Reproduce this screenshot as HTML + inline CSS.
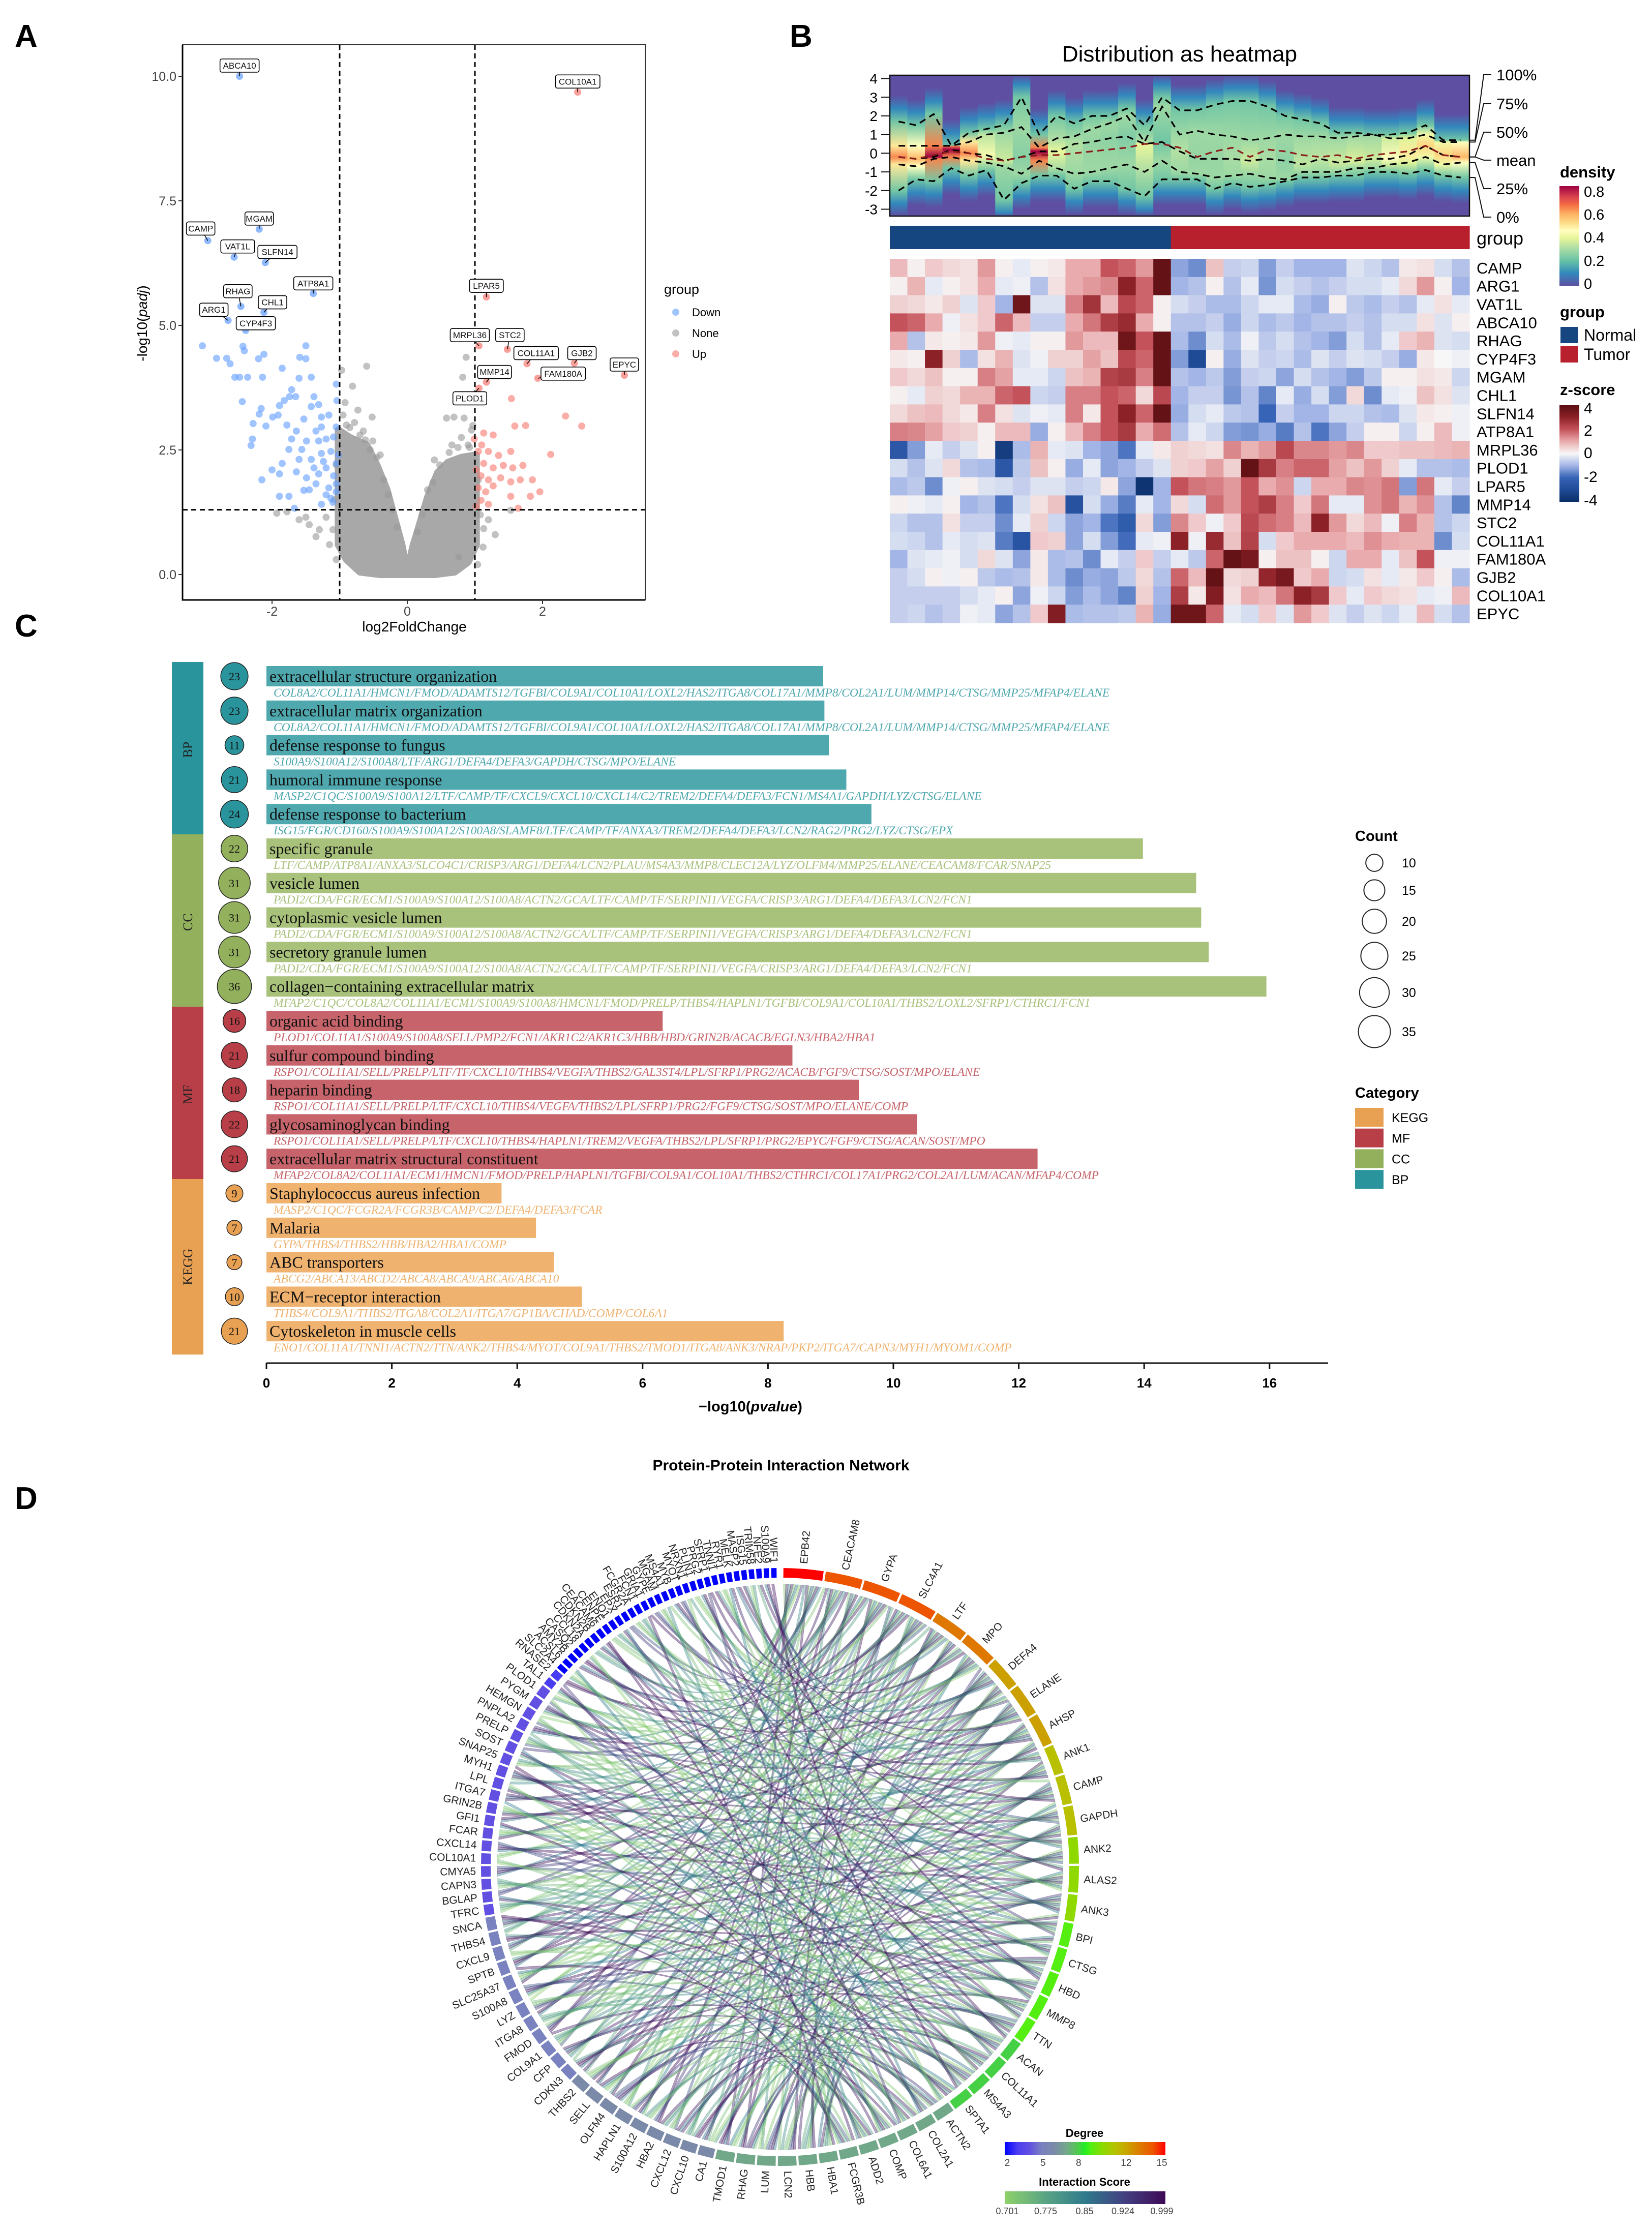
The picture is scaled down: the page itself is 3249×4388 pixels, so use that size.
<!DOCTYPE html>
<html><head><meta charset="utf-8"><style>
html,body{margin:0;padding:0;background:#fff;}
svg{display:block;font-family:"Liberation Sans",sans-serif;}
.serif{font-family:"Liberation Serif",serif;}
</style></head><body>
<svg id="fig" xmlns="http://www.w3.org/2000/svg" width="3249" height="4388" viewBox="0 0 3249 4388">
<rect x="0" y="0" width="3249" height="4388" fill="#fff"/>
<defs id="defs"></defs>
<text x="29" y="92" font-size="62" font-weight="bold">A</text>
<text x="1553" y="92" font-size="62" font-weight="bold">B</text>
<text x="29" y="1252" font-size="62" font-weight="bold">C</text>
<text x="29" y="2968" font-size="62" font-weight="bold">D</text>
</svg>
<script>
// ================= DATA =================
const volNames=['ABCA10','COL10A1','MGAM','CAMP','VAT1L','SLFN14','ATP8A1','RHAG','CHL1','ARG1','CYP4F3','LPAR5','MRPL36','STC2','COL11A1','GJB2','EPYC','FAM180A','MMP14','PLOD1'];
const volLX=[-2.48,2.52,-2.19,-2.95,-2.56,-2.1,-1.39,-2.46,-2.12,-2.65,-2.39,1.17,1.06,1.48,1.77,2.47,3.21,1.93,1.17,1.06];
const volLY=[10.0,9.68,6.93,6.7,6.37,6.26,5.64,5.38,5.26,5.1,4.9,5.57,4.59,4.52,4.23,4.24,4.0,3.94,3.86,3.74];
const volLDir=['d','u','d','d','d','d','d','d','d','d','d','u','u','u','u','u','u','u','u','u'];
const downX=[-3.03,-2.82,-2.67,-2.62,-2.55,-2.48,-2.36,-2.44,-2.43,-2.41,-2.2,-2.12,-1.85,-2.14,-1.59,-1.5,-1.5,-1.6,-1.42,-1.71,-1.74,-1.65,-1.82,-1.89,-1.99,-2.16,-2.19,-2.28,-2.09,-2.29,-2.31,-1.91,-1.78,-1.64,-1.53,-1.42,-1.31,-1.38,-1.27,-1.16,-1.05,-1.05,-1.04,-1.71,-1.49,-1.31,-1.2,-1.09,-1.75,-1.56,-1.42,-1.27,-1.13,-1.05,-1.85,-2.0,-2.15,-1.89,-1.64,-1.49,-1.31,-1.2,-1.09,-1.35,-1.16,-1.05,-1.89,-1.75,-1.53,-1.27,-1.13,-1.67,-1.05,-1.24,-1.38,-1.6,-1.35,-1.27,-1.1,-1.2,-1.45,-1.02];
const downY=[4.59,4.34,4.34,4.23,3.96,3.96,3.96,3.47,4.58,4.49,4.33,4.42,4.14,3.96,4.36,4.59,4.33,3.94,3.96,3.71,3.57,3.57,3.49,3.39,3.16,3.33,3.22,3.03,2.98,2.72,2.59,3.2,3.0,2.88,3.12,3.37,3.41,3.57,3.16,3.2,2.96,3.82,3.49,2.72,2.68,2.68,2.72,2.76,2.51,2.51,2.31,2.43,2.47,2.23,2.23,2.1,1.9,2.02,2.06,1.94,2.02,2.14,1.98,1.82,1.74,1.66,1.57,1.57,1.69,1.41,1.53,1.33,1.82,2.27,2.14,2.31,2.88,2.96,1.45,1.6,1.7,2.4];
const upX=[0.99,1.13,1.27,1.54,1.59,1.75,2.34,2.58,2.12,1.05,1.2,1.35,1.53,1.13,1.27,1.42,1.56,1.71,1.09,1.2,1.38,1.53,1.67,1.85,1.05,1.16,1.09,1.2,1.53,1.82,1.96,1.64,1.02,1.27,1.02,1.1];
const upY=[2.72,2.84,2.8,3.53,2.98,2.99,3.18,2.98,2.41,2.47,2.47,2.39,2.47,2.23,2.14,2.19,2.14,2.19,1.98,1.9,1.94,1.86,1.9,1.9,1.74,1.66,1.49,1.41,1.57,1.57,1.66,1.33,1.37,1.78,2.1,2.6];
const noneX=[-0.97,-0.6,-0.81,-0.73,-0.52,-0.92,0.87,0.82,0.58,0.69,0.84,0.97,-0.65,-0.51,-1.93,-1.78,-1.45,-1.35,0.76,1.53,1.13,-1.6,-1.2,-1.1,1.2,1.3,-0.9,0.9,-0.4,0.4,-0.85,-0.7,-0.55,-0.45,-0.35,-0.28,-0.22,-0.15,0.15,0.22,0.3,0.38,0.48,0.62,0.75,0.92,-1.05,-1.08,1.05,1.08,-0.95,0.95,-0.78,0.8,-0.62,0.66,-1.15,1.12,-1.3,-1.5,-1.05,1.04];
const noneY=[4.1,4.18,3.78,3.3,3.16,3.45,4.36,3.96,3.14,3.16,3.14,2.99,2.88,2.68,1.23,1.26,1.0,0.76,0.35,1.29,0.92,1.1,1.15,0.9,1.1,0.8,3.0,2.6,2.4,2.3,2.95,2.8,2.5,2.35,1.9,1.6,1.3,0.95,0.85,1.2,1.7,1.85,2.2,2.45,2.55,2.55,2.2,1.5,1.9,1.2,3.2,2.9,3.05,2.75,2.7,2.6,0.6,0.55,0.9,1.15,0.3,0.2];
const cloudX=[-1.02,-0.85,-0.6,-0.45,-0.3,-0.18,-0.08,0,0.08,0.18,0.3,0.45,0.6,0.8,1.02,1.02,0.9,0.7,0.4,-0.4,-0.7,-0.9,-1.02];
const cloudY=[2.9,2.75,2.6,2.2,1.7,1.1,0.6,0.05,0.55,1.0,1.55,2.05,2.25,2.35,2.4,0.6,0.25,0.05,0,0,0.05,0.3,0.6];

const hmGenes=['CAMP','ARG1','VAT1L','ABCA10','RHAG','CYP4F3','MGAM','CHL1','SLFN14','ATP8A1','MRPL36','PLOD1','LPAR5','MMP14','STC2','COL11A1','FAM180A','GJB2','COL10A1','EPYC'];
const hmGroupCounts=[16,17];
const hmZ=[
[.8,.1,.6,.4,.3,1.2,.1,-.2,.1,.2,1,1,2,1.8,1.2,3.8,-1.2,-1.5,.7,-.6,-.5,-1.3,-.6,-1,-1,-1,-.3,-.5,-.8,.2,.3,-.4,-.8],
[.1,.9,-.2,.1,.3,1,-.2,-.1,-.8,.3,1,1.2,1.4,3,1.8,3.8,-1,-.8,.1,-.8,-.2,-1.4,-.4,-.6,-.8,-.6,-.4,-.4,-.2,.4,1.2,.1,-1],
[.5,.4,.2,.5,-.3,.6,-1,3.6,-.3,-.3,1.5,2.6,.8,2.2,1.8,.1,-.4,-.6,-.9,-.9,-.5,-.2,-.2,-.9,-1.1,.1,-.7,-.9,-.6,-.8,-.2,.3,-.2],
[2,1.8,1,-.1,.3,.6,1.8,.8,-.6,-.6,1,1.6,2.4,2.8,1,.1,-.8,-.8,-.6,-1.1,-.5,-.9,-.7,-1,-.8,-.8,-.6,-.8,-.4,-.4,.3,-.3,.1],
[1,-.8,.2,.1,.2,1.2,-.1,-.2,.1,.1,1.2,.8,.8,3.6,2,3.8,-.9,-1.5,-.4,-.9,-.1,-.7,-.4,-.8,-1,-1.3,-.4,-.8,-.2,.6,.9,-.3,-.4],
[.2,.1,3,.5,-.9,.3,.9,-.3,-.1,.5,.5,1.1,.7,2.2,1.8,3.8,-1.3,-3,.1,-1.1,-.3,-.6,-.5,-.9,-.3,-.6,-.3,-.4,-.6,-1.1,.2,0,-.1],
[.6,.4,.7,.1,.1,1.5,1.1,-.2,-.2,-.5,.7,.9,2.3,2.5,1.5,3.8,-.8,-1,-.7,-1.3,-.6,-.5,-1.2,-.4,-.8,-1,-1.3,-.7,.1,.1,.3,.2,-.5],
[.1,-.2,.5,.4,.9,.9,1.8,2,-.5,-.6,1.5,1.5,2,1.8,.4,2.2,-1,-.6,-.6,-1.4,-.8,-1.6,-.2,-1.1,-.4,-1.3,.4,-1.5,-.2,-.1,.7,.3,-.3],
[.4,.7,.8,.4,.2,1.5,.3,-.3,-.1,-.2,1.5,.2,2,3,1.8,3.8,-1.1,-.4,-.2,-.7,-.8,-2,-.6,-1,-1,-.5,-.5,-.8,-.9,-.3,.2,.1,-.1],
[1.5,1.4,1.1,.6,.5,.1,.8,.8,-1.1,.1,.8,1.5,2,2.5,1,1.7,-.8,-.2,-.5,-1.3,-1.4,-1.1,-1.7,-.8,-1.8,-1.2,-.6,.1,.1,-.5,.1,.8,-.1],
[-2.5,-1.3,-.2,-.6,-.3,.1,-3.5,-.9,.9,-.2,-.3,-1,-1.2,-1.8,-.2,.2,.5,.4,.3,1.4,.9,1.2,2.2,1.4,1.4,1.2,1.4,.6,.6,.7,.7,.8,.9],
[-.4,-.8,-.3,.4,-.8,-.9,-2.5,-.7,.7,.1,-1.1,-.2,-1.2,-1,-.6,-.3,.5,.6,1.1,.5,3.8,2.5,1.5,1.8,1.8,1.1,.7,1.2,.5,-.2,-.8,-.8,-.9],
[-.9,-.7,-1.5,-.1,.1,-.3,-.4,-.6,-.3,-.3,-.6,-.5,.2,-1.2,-3.8,-1,2,1.6,1.5,1.2,2,1,1.3,-.5,1,1,1.4,1.3,1.6,-1.3,1.6,-.2,-.6],
[.1,-.1,-.2,.1,-1,-.8,-1.8,-.4,.3,.7,-2.7,-.4,-1.1,-1.7,-.2,-1,.4,-.4,1.7,1.2,2,2.4,1.5,.6,1.6,-.2,-.2,1.3,1.6,.9,1.3,-.8,-1.6],
[-.5,-.8,-.8,.3,-.6,-.6,-1.5,-.2,.5,-.5,-1.2,-1,-1.8,-2.3,.4,-1.3,1.4,.6,-.1,.6,2.2,1.7,1.5,.8,3,1.2,.4,.8,-.1,1.5,.9,-.8,-.5],
[-.4,-.5,-.8,-.2,-.4,-.3,-1.7,-2.6,.6,.5,-1.2,-.4,-1.3,-1.9,-.2,-.1,3,-.1,2.8,.7,2.3,-.4,.6,1,1,1,.8,1.3,1,.9,.9,-1.5,-.4],
[-1,-.3,-.2,-.1,-.4,.4,-.3,-1.2,.2,-.9,-.8,-1.5,-.2,-.6,.6,-.6,-.2,-.7,1.8,3.8,3.4,.1,.7,.7,.1,-.5,1,1,-.2,.7,2,-.1,-.1],
[-.6,-.4,.1,-.1,.1,-.7,-.9,-.8,.2,-.9,-1.5,-1.1,-1.2,-.7,.4,-.8,1.8,.8,3.8,.4,.5,2.9,3.4,.6,1,-.5,-.4,.3,-.2,.2,.6,.1,-.9],
[-.6,-.6,-.6,-.6,-.4,-.2,.1,-1.2,-.1,-.5,-1.3,-.9,-1.2,-1.6,.5,-1,2.4,.2,3.2,.3,1,.8,1.6,3,2.5,.6,-.2,.6,.4,.3,-.2,-.1,.8],
[-.6,-.5,-.8,-.6,-.1,-.2,-1.2,-.8,.6,3.2,-.9,-.8,-.8,-.7,.9,-1.1,3.6,3.6,1.8,-.2,-.4,.6,-.3,1.2,.6,-.3,-.6,-.3,-.5,-.2,.8,-.4,-.8]];
const dQ100=[1.7,1.5,2.1,0.4,1.1,1.3,1.5,3.0,1.0,2.0,1.6,2.0,2.0,2.4,1.5,3.0,2.3,2.3,2.6,2.8,2.8,2.5,2.0,1.8,1.6,1.1,1.1,1.0,1.0,1.1,1.5,0.7,0.7];
const dQ75=[0.4,0.4,0.4,0.4,0.6,1.0,1.1,1.4,0.3,0.8,0.9,1.3,1.6,2.0,0.6,2.5,1.0,1.2,1.0,0.9,0.7,0.8,1.0,0.9,0.9,0.8,0.9,1.0,0.8,0.8,1.0,0.6,0.6];
const dQ50=[-0.2,-0.3,-0.2,0.2,0.0,-0.1,-0.4,-0.2,0.1,0.1,0.5,0.6,0.8,0.9,0.5,0.6,0.1,-0.3,-0.3,-0.3,-0.4,-0.3,-0.4,-0.6,-0.3,-0.5,-0.4,-0.3,-0.3,-0.1,0.4,-0.1,-0.2];
const dMean=[-0.2,-0.3,-0.1,0.1,0.0,-0.3,-0.4,-0.2,-0.1,-0.1,0.0,0.1,0.2,0.3,0.5,0.5,0.3,-0.2,0.1,0.3,-0.2,0.2,0.1,-0.1,-0.2,-0.1,-0.3,-0.1,0.0,0.1,0.4,-0.1,-0.2];
const dQ25=[-0.6,-0.7,-0.3,-0.2,-0.4,-0.5,-0.7,-1.1,-0.4,-0.8,-1.1,-1.0,-0.8,-0.6,-1.0,-0.4,-1.0,-1.1,-1.3,-1.2,-1.1,-1.3,-1.4,-1.0,-1.0,-1.0,-0.8,-0.8,-0.6,-0.5,-0.2,-0.6,-0.5];
const dQ0=[-2.0,-1.4,-1.5,-0.8,-1.2,-0.9,-2.5,-1.6,-1.2,-1.2,-1.9,-1.5,-1.5,-1.9,-2.3,-1.4,-1.4,-1.4,-1.9,-1.6,-1.8,-1.7,-1.5,-1.3,-1.3,-1.2,-1.2,-1.0,-1.0,-1.1,-0.9,-1.2,-1.3];
const dTicks=[4,3,2,1,0,-1,-2,-3];

const goTerms=['extracellular structure organization','extracellular matrix organization','defense response to fungus','humoral immune response','defense response to bacterium','specific granule','vesicle lumen','cytoplasmic vesicle lumen','secretory granule lumen','collagen\u2212containing extracellular matrix','organic acid binding','sulfur compound binding','heparin binding','glycosaminoglycan binding','extracellular matrix structural constituent','Staphylococcus aureus infection','Malaria','ABC transporters','ECM\u2212receptor interaction','Cytoskeleton in muscle cells'];
const goCounts=[23,23,11,21,24,22,31,31,31,36,16,21,18,22,21,9,7,7,10,21];
const goLogP=[8.88,8.9,8.97,9.25,9.65,13.98,14.83,14.91,15.03,15.95,6.32,8.39,9.45,10.38,12.3,3.75,4.3,4.59,5.03,8.25];
const goCat=['BP','BP','BP','BP','BP','CC','CC','CC','CC','CC','MF','MF','MF','MF','MF','KEGG','KEGG','KEGG','KEGG','KEGG'];
const goGenes=[
'COL8A2/COL11A1/HMCN1/FMOD/ADAMTS12/TGFBI/COL9A1/COL10A1/LOXL2/HAS2/ITGA8/COL17A1/MMP8/COL2A1/LUM/MMP14/CTSG/MMP25/MFAP4/ELANE',
'COL8A2/COL11A1/HMCN1/FMOD/ADAMTS12/TGFBI/COL9A1/COL10A1/LOXL2/HAS2/ITGA8/COL17A1/MMP8/COL2A1/LUM/MMP14/CTSG/MMP25/MFAP4/ELANE',
'S100A9/S100A12/S100A8/LTF/ARG1/DEFA4/DEFA3/GAPDH/CTSG/MPO/ELANE',
'MASP2/C1QC/S100A9/S100A12/LTF/CAMP/TF/CXCL9/CXCL10/CXCL14/C2/TREM2/DEFA4/DEFA3/FCN1/MS4A1/GAPDH/LYZ/CTSG/ELANE',
'ISG15/FGR/CD160/S100A9/S100A12/S100A8/SLAMF8/LTF/CAMP/TF/ANXA3/TREM2/DEFA4/DEFA3/LCN2/RAG2/PRG2/LYZ/CTSG/EPX',
'LTF/CAMP/ATP8A1/ANXA3/SLCO4C1/CRISP3/ARG1/DEFA4/LCN2/PLAU/MS4A3/MMP8/CLEC12A/LYZ/OLFM4/MMP25/ELANE/CEACAM8/FCAR/SNAP25',
'PADI2/CDA/FGR/ECM1/S100A9/S100A12/S100A8/ACTN2/GCA/LTF/CAMP/TF/SERPINI1/VEGFA/CRISP3/ARG1/DEFA4/DEFA3/LCN2/FCN1',
'PADI2/CDA/FGR/ECM1/S100A9/S100A12/S100A8/ACTN2/GCA/LTF/CAMP/TF/SERPINI1/VEGFA/CRISP3/ARG1/DEFA4/DEFA3/LCN2/FCN1',
'PADI2/CDA/FGR/ECM1/S100A9/S100A12/S100A8/ACTN2/GCA/LTF/CAMP/TF/SERPINI1/VEGFA/CRISP3/ARG1/DEFA4/DEFA3/LCN2/FCN1',
'MFAP2/C1QC/COL8A2/COL11A1/ECM1/S100A9/S100A8/HMCN1/FMOD/PRELP/THBS4/HAPLN1/TGFBI/COL9A1/COL10A1/THBS2/LOXL2/SFRP1/CTHRC1/FCN1',
'PLOD1/COL11A1/S100A9/S100A8/SELL/PMP2/FCN1/AKR1C2/AKR1C3/HBB/HBD/GRIN2B/ACACB/EGLN3/HBA2/HBA1',
'RSPO1/COL11A1/SELL/PRELP/LTF/TF/CXCL10/THBS4/VEGFA/THBS2/GAL3ST4/LPL/SFRP1/PRG2/ACACB/FGF9/CTSG/SOST/MPO/ELANE',
'RSPO1/COL11A1/SELL/PRELP/LTF/CXCL10/THBS4/VEGFA/THBS2/LPL/SFRP1/PRG2/FGF9/CTSG/SOST/MPO/ELANE/COMP',
'RSPO1/COL11A1/SELL/PRELP/LTF/CXCL10/THBS4/HAPLN1/TREM2/VEGFA/THBS2/LPL/SFRP1/PRG2/EPYC/FGF9/CTSG/ACAN/SOST/MPO',
'MFAP2/COL8A2/COL11A1/ECM1/HMCN1/FMOD/PRELP/HAPLN1/TGFBI/COL9A1/COL10A1/THBS2/CTHRC1/COL17A1/PRG2/COL2A1/LUM/ACAN/MFAP4/COMP',
'MASP2/C1QC/FCGR2A/FCGR3B/CAMP/C2/DEFA4/DEFA3/FCAR',
'GYPA/THBS4/THBS2/HBB/HBA2/HBA1/COMP',
'ABCG2/ABCA13/ABCD2/ABCA8/ABCA9/ABCA6/ABCA10',
'THBS4/COL9A1/THBS2/ITGA8/COL2A1/ITGA7/GP1BA/CHAD/COMP/COL6A1',
'ENO1/COL11A1/TNNI1/ACTN2/TTN/ANK2/THBS4/MYOT/COL9A1/THBS2/TMOD1/ITGA8/ANK3/NRAP/PKP2/ITGA7/CAPN3/MYH1/MYOM1/COMP'];
const goXTicks=[0,2,4,6,8,10,12,14,16];
const countLegend=[10,15,20,25,30,35];

const ppiNodes=['EPB42','CEACAM8','GYPA','SLC4A1','LTF','MPO','DEFA4','ELANE','AHSP','ANK1','CAMP','GAPDH','ANK2','ALAS2','ANK3','BPI','CTSG','HBD','MMP8','TTN','ACAN','COL11A1','MS4A3','SPTA1','ACTN2','COL2A1','COL6A1','COMP','ADD2','FCGR3B','HBA1','HBB','LCN2','LUM','RHAG','TMOD1','CA1','CXCL10','CXCL12','HBA2','S100A12','HAPLN1','OLFM4','SELL','THBS2','CDKN3','CFP','COL9A1','FMOD','ITGA8','LYZ','S100A8','SLC25A37','SPTB','CXCL9','THBS4','SNCA','TFRC','BGLAP','CAPN3','CMYA5','COL10A1','CXCL14','FCAR','GFI1','GRIN2B','ITGA7','LPL','MYH1','SNAP25','SOST','PRELP','PNPLA2','HEMGN','PYGM','PLOD1','TAL1','RNASE2','SLC2A4','ACSL6','AMY2B','CASQ2','CCL18','CDKN2A','CDKN2B','CEACAM6','CENPE','ENO1','EPX','ESR1','FCGR2A','FCN1','GRIA1','GYPE','MGAM','MS4A1','MYB','MYOT','NRXN1','PLIN1','PRG2','SFRP1','TNNI1','RYR1','MELK','MASP2','ISG15','TRIM58','NFE2','S100A9','WIF1'];
const ppiDegree=[15,14,14,14,13,13,12,12,12,11,11,11,10,10,10,9,9,9,9,9,8,8,8,8,7,7,7,7,7,7,7,7,7,7,7,7,6,6,6,6,6,6,6,6,6,5,5,5,5,5,5,5,5,5,5,5,5,4,4,4,4,4,4,4,4,4,4,4,4,4,4,4,4,4,4,4,3,3,2,2,2,2,2,2,2,2,2,2,2,2,2,2,2,2,2,2,2,2,2,2,2,2,2,2,2,2,2,2,2,2,2];
const ppiScoreCycle=[0.72,0.97,0.80,0.99,0.74,0.86,0.71,0.94,0.82,0.98,0.73,0.90,0.77,0.99,0.85];
const degTicks=[2,5,8,12,15];
const scoreTicks=[0.701,0.775,0.85,0.924,0.999];

// ================= HELPERS =================
const NS='http://www.w3.org/2000/svg';
const svg=document.getElementById('fig');
const defs=document.getElementById('defs');
function mk(tag,a,p){const e=document.createElementNS(NS,tag);for(const k in a)e.setAttribute(k,a[k]);(p||svg).appendChild(e);return e;}
function tx(x,y,s,a,p){const e=mk('text',Object.assign({x:x,y:y},a||{}),p);e.textContent=s;return e;}
function hex2rgb(h){return [parseInt(h.substr(1,2),16),parseInt(h.substr(3,2),16),parseInt(h.substr(5,2),16)];}
function interp(stops,v){if(v<=stops[0][0])return stops[0][1];for(let i=1;i<stops.length;i++){if(v<=stops[i][0]){const t=(v-stops[i-1][0])/(stops[i][0]-stops[i-1][0]);const a=hex2rgb(stops[i-1][1]),b=hex2rgb(stops[i][1]);return 'rgb('+a.map((c,j)=>Math.round(c+(b[j]-c)*t)).join(',')+')';}}return stops[stops.length-1][1];}
const spectral=[[0,'#5E4FA2'],[0.1,'#3288BD'],[0.2,'#66C2A5'],[0.3,'#ABDDA4'],[0.38,'#E6F598'],[0.44,'#FFFFBF'],[0.5,'#FEE08B'],[0.58,'#FDAE61'],[0.65,'#F46D43'],[0.72,'#D53E4F'],[0.8,'#9E0142']];
const zPal=[[-4,'#0a2f68'],[-3,'#1f4a96'],[-2,'#3764b6'],[-1,'#a3b5e6'],[0,'#f7f7f7'],[1,'#e9abad'],[2,'#c4525a'],[3,'#8c2127'],[4,'#5a0e12']];
const degPal=[[2,'#0000ff'],[3,'#4a3cf2'],[4,'#6250e2'],[5,'#7a82c0'],[6,'#7a8aa8'],[7,'#72a88a'],[7.8,'#55c455'],[8.5,'#22ee22'],[9,'#55ee11'],[10,'#8fd800'],[11,'#b8c000'],[12,'#cca000'],[13,'#de7800'],[14,'#ee5500'],[15,'#ff0000']];
const scorePal=[[0.701,'#8fd16a'],[0.775,'#5aa584'],[0.85,'#2f7a8c'],[0.924,'#433f80'],[0.999,'#3e0a55']];
const catFill={BP:'#2a949c',CC:'#93b05c',MF:'#b83f48',KEGG:'#e8a052'};
const catBar={BP:'#4ea8ae',CC:'#a8c17b',MF:'#c7636a',KEGG:'#efb26f'};

// ================= PANEL A =================
(function(){
const g=mk('g',{});


const X=v=>801+v*133, Y=v=>1130-v*98;
const L=359,R=1269,T=88,B=1180;
let pts=cloudX.map((x,i)=>X(x)+','+Y(cloudY[i])).join(' ');
const cl=mk('polygon',{points:pts,fill:'#a8a8a8',stroke:'#a8a8a8','stroke-width':14,'stroke-linejoin':'round'},g);


noneX.forEach((x,i)=>{const c=mk('circle',{cx:X(x),cy:Y(noneY[i]),r:7,fill:'#9a9a9a','fill-opacity':0.6},g);

});
downX.forEach((x,i)=>{const c=mk('circle',{cx:X(x),cy:Y(downY[i]),r:7,fill:'#619CFF','fill-opacity':0.6},g);

});
upX.forEach((x,i)=>{const c=mk('circle',{cx:X(x),cy:Y(upY[i]),r:7,fill:'#F8766D','fill-opacity':0.6},g);

});
volNames.forEach((n,i)=>{const c=mk('circle',{cx:X(volLX[i]),cy:Y(volLY[i]),r:7,fill:volLDir[i]=='d'?'#619CFF':'#F8766D','fill-opacity':0.7},g);

});
[[X(-1),T,X(-1),B],[X(1),T,X(1),B],[L,Y(1.3),R,Y(1.3)]].forEach((l,i)=>{const d=mk('line',{x1:l[0],y1:l[1],x2:l[2],y2:l[3],stroke:'#000','stroke-width':3,'stroke-dasharray':'10 7'},g);

});
const off=[[0,-21],[0,-21],[0,-21],[-14,-24],[7,-21],[24,-21],[0,-20],[-6,-30],[17,-20],[-28,-21],[20,-14],[0,-22],[-18,-21],[5,-28],[18,-21],[15,-20],[0,-21],[50,-9],[16,-20],[-18,20]];
volNames.forEach((n,i)=>{const px=X(volLX[i]),py=Y(volLY[i]);const cx=px+off[i][0],cy=py+off[i][1];
const ln=mk('line',{x1:px,y1:py,x2:cx,y2:cy,stroke:'#000','stroke-width':1.5},g);


const w=n.length*10.5+14;
const r=mk('rect',{x:cx-w/2,y:cy-13,width:w,height:26,rx:4,fill:'#fff',stroke:'#000','stroke-width':1.6},g);


const t=tx(cx,cy+6,n,{'font-size':17,'text-anchor':'middle',fill:'#111'},g);

});
const fr=mk('path',{d:`M${L},${T}H${R}V${B}H${L}Z`,fill:'none',stroke:'#333','stroke-width':2},g);


const ax=mk('path',{d:`M${L},${T}V${B}H${R}`,fill:'none',stroke:'#000','stroke-width':3},g);


[-2,0,2].forEach(v=>{const tk=mk('line',{x1:X(v),y1:B,x2:X(v),y2:B+8,stroke:'#333','stroke-width':2},g);


const t=tx(X(v),B+31,String(v),{'font-size':25,'text-anchor':'middle',fill:'#444'},g);

});
[0,2.5,5,7.5,10].forEach(v=>{const tk=mk('line',{x1:L-8,y1:Y(v),x2:L,y2:Y(v),stroke:'#333','stroke-width':2},g);


const t=tx(L-12,Y(v)+9,v.toFixed(1),{'font-size':25,'text-anchor':'end',fill:'#444'},g);

});
const xt=tx(815,1242,'log2FoldChange',{'font-size':28,'text-anchor':'middle'},g);


const yt=mk('text',{x:0,y:0,'font-size':28,'text-anchor':'middle',transform:'translate(289,636) rotate(-90)'},g);
yt.innerHTML='-log10(<tspan font-style="italic">padj</tspan>)';


const lt=tx(1306,578,'group',{'font-size':27},g);


[['Down','#619CFF',614],['None','#9a9a9a',655],['Up','#F8766D',696]].forEach(e=>{
const c=mk('circle',{cx:1329,cy:e[2],r:7,fill:e[1],'fill-opacity':0.6},g);


const t=tx(1361,e[2]+8,e[0],{'font-size':22},g);

});
})();

// ================= PANEL B =================
(function(){
const g=mk('g',{});


const x0=1750,x1=2890,nC=33,cw=(x1-x0)/nC;
const Yd=v=>301.4-v*36.7;
const dT=148,dB=425;
const ttl=tx(2320,121,'Distribution as heatmap',{'font-size':44,'text-anchor':'middle'},g);


for(let c=0;c<nC;c++){
 const gid='dg'+c;
 const lg=mk('linearGradient',{id:gid,gradientUnits:'userSpaceOnUse',x1:0,y1:dT,x2:0,y2:dB},defs);
 const peak=Math.min(0.8,0.62/Math.max(0.3,dQ75[c]-dQ25[c]));
 const st=[[dQ100[c]+1.4,0],[dQ100[c]+0.7,0.1],[dQ100[c],0.22],[dQ75[c],Math.max(0.28,0.78*peak)],[dQ50[c],peak],[dQ25[c],Math.max(0.28,0.78*peak)],[dQ0[c],0.22],[dQ0[c]-0.7,0.1],[dQ0[c]-1.4,0]];
 st.forEach(s=>{const off=Math.max(0,Math.min(1,(Yd(s[0])-dT)/(dB-dT)));mk('stop',{offset:off,'stop-color':interp(spectral,s[1])},lg);});
 const r=mk('rect',{x:x0+c*cw,y:dT,width:cw+0.6,height:dB-dT,fill:'url(#'+gid+')'},g);
 
 
}
const lines=[[dQ100,'#000'],[dQ75,'#000'],[dQ50,'#000'],[dQ25,'#000'],[dQ0,'#000'],[dMean,'#8b1a1a']];
lines.forEach(l=>{const p=l[0].map((v,i)=>(x0+(i+0.5)*cw)+','+Yd(v)).join(' ');
 const pl=mk('polyline',{points:p,fill:'none',stroke:l[1],'stroke-width':3.2,'stroke-dasharray':'13 9'},g);
 
 });
const fr=mk('rect',{x:x0,y:dT,width:x1-x0,height:dB-dT,fill:'none',stroke:'#111','stroke-width':2.5},g);


dTicks.forEach(v=>{const tk=mk('line',{x1:1733,y1:Yd(v),x2:x0,y2:Yd(v),stroke:'#111','stroke-width':2},g);


const t=tx(1726,Yd(v)+10,String(v),{'font-size':28,'text-anchor':'end'},g);

});
const qLab=['100%','75%','50%','mean','25%','0%'];
const qLast=[dQ100,dQ75,dQ50,dMean,dQ25,dQ0].map(a=>a[nC-1]);
const qY=[147,204,260,315,371,427];
qLab.forEach((s,i)=>{const yv=Yd(qLast[i]);
 const pl=mk('polyline',{points:`${x1},${yv} 2901,${yv} 2918,${qY[i]} 2933,${qY[i]}`,fill:'none',stroke:'#111','stroke-width':2},g);
 
 
 const t=tx(2943,qY[i]+11,s,{'font-size':31},g);
 
 });
let col=0;
hmGroupCounts.forEach((n,gi)=>{for(let k=0;k<n;k++){const r=mk('rect',{x:x0+col*cw,y:444,width:cw+0.6,height:46,fill:gi==0?'#15467f':'#b8202e'},g);
 
 col++;}});
const gl=tx(2904,481,'group',{'font-size':36},g);


const hy0=509,rh=35.8;
hmZ.forEach((row,ri)=>{row.forEach((z,ci)=>{const r=mk('rect',{x:x0+ci*cw,y:hy0+ri*rh,width:cw+0.6,height:rh+0.6,fill:interp(zPal,z)},g);
 
 });
 const t=tx(2904,hy0+(ri+0.5)*rh+11,hmGenes[ri],{'font-size':31},g);
 
 });
const dt=tx(3068,349,'density',{'font-size':31,'font-weight':'bold'},g);


const lgD=mk('linearGradient',{id:'dleg',x1:0,y1:1,x2:0,y2:0},defs);
spectral.forEach(s=>mk('stop',{offset:s[0]/0.8,'stop-color':s[1]},lgD));
const db=mk('rect',{x:3067,y:366,width:39,height:196,fill:'url(#dleg)'},g);


[[0.8,377],[0.6,422],[0.4,467],[0.2,513],[0,558]].forEach(e=>{const t=tx(3115,e[1]+10,String(e[0]),{'font-size':29},g);
 
 });
const gt=tx(3068,624,'group',{'font-size':31,'font-weight':'bold'},g);


[['Normal','#15467f',643],['Tumor','#b8202e',681]].forEach(e=>{const r=mk('rect',{x:3069,y:e[2],width:34,height:32,fill:e[1]},g);
 
 
 const t=tx(3115,e[2]+27,e[0],{'font-size':32},g);
 
 });
const zt=tx(3068,777,'z-score',{'font-size':31,'font-weight':'bold'},g);


const lgZ=mk('linearGradient',{id:'zleg',x1:0,y1:1,x2:0,y2:0},defs);
zPal.forEach(s=>mk('stop',{offset:(s[0]+4)/8,'stop-color':s[1]},lgZ));
const zb=mk('rect',{x:3067,y:797,width:39,height:190,fill:'url(#zleg)'},g);


[[4,802],[2,846],[0,890],[-2,937],[-4,983]].forEach(e=>{const t=tx(3115,e[1]+11,String(e[0]),{'font-size':30},g);
 
 });
})();

// ================= PANEL C =================
(function(){
const g=mk('g',{});


const X=v=>524+v*123.3, rowY=i=>1330+i*67.8;
const groups={};goCat.forEach((c,i)=>{if(!groups[c])groups[c]=[i,i];groups[c][1]=i;});
Object.keys(groups).forEach(c=>{const a=groups[c][0],b=groups[c][1];const y1=rowY(a)-28,y2=rowY(b)+46;
 const r=mk('rect',{x:338,y:y1,width:62,height:y2-y1,fill:catFill[c]},g);
 
 
 const t=tx(0,0,c,{'font-size':26,'text-anchor':'middle',class:'serif',fill:'#222',transform:`translate(378,${(y1+y2)/2}) rotate(-90)`},g);
 
 });
goTerms.forEach((term,i)=>{const y=rowY(i);const c=goCat[i];
 const b=mk('rect',{x:X(0),y:y-20,width:X(goLogP[i])-X(0),height:40,fill:catBar[c]},g);
 
 
 const t=tx(X(0)+6,y+11,term,{'font-size':32,class:'serif',fill:'#111'},g);
 
 
 const gt=tx(X(0)+14,y+40,goGenes[i],{'font-size':23.5,class:'serif','font-style':'italic',fill:catBar[c]},g);
 
 
 const cr=mk('circle',{cx:461,cy:y,r:5.6*Math.sqrt(goCounts[i]),fill:catFill[c],stroke:'#222','stroke-width':1.5},g);
 
 
 const ct=tx(461,y+8,String(goCounts[i]),{'font-size':22,class:'serif','text-anchor':'middle',fill:'#111'},g);
 
 });
const ax=mk('line',{x1:X(0),y1:2681,x2:2612,y2:2681,stroke:'#111','stroke-width':3},g);


goXTicks.forEach(v=>{const tk=mk('line',{x1:X(v),y1:2681,x2:X(v),y2:2693,stroke:'#111','stroke-width':3},g);
 
 
 const t=tx(X(v),2729,String(v),{'font-size':26,'font-weight':'bold','text-anchor':'middle'},g);
 
 });
const xt=mk('text',{x:1476,y:2776,'font-size':29,'font-weight':'bold','text-anchor':'middle'},g);
xt.innerHTML='\u2212log10(<tspan font-style="italic">pvalue</tspan>)';


const ctl=tx(2665,1654,'Count',{'font-size':29,'font-weight':'bold'},g);


const cy=[1697,1751,1812,1880,1952,2029];
countLegend.forEach((n,i)=>{const c=mk('circle',{cx:2703,cy:cy[i],r:5.6*Math.sqrt(n)*0.95,fill:'none',stroke:'#222','stroke-width':2},g);
 
 
 const t=tx(2757,cy[i]+9,String(n),{'font-size':25},g);
 
 });
const cat=tx(2665,2159,'Category',{'font-size':29,'font-weight':'bold'},g);


['KEGG','MF','CC','BP'].forEach((c,i)=>{const y=2179+i*40.7;
 const r=mk('rect',{x:2665,y:y,width:56,height:37,fill:catFill[c]},g);
 
 
 const t=tx(2737,y+28,c,{'font-size':25},g);
 
 });
})();

// ================= PANEL D =================
(function(){
const g=mk('g',{});


const cx=1534,cy=3672,rIn=569,rOut=588,rC=556,rL=598;
const t0=tx(1536,2892,'Protein-Protein Interaction Network',{'font-size':30,'font-weight':'bold','text-anchor':'middle'},g);


const n=ppiNodes.length,gap=0.42,topGap=0.9;
const sumD=ppiDegree.reduce((a,b)=>a+b,0);
const k=(360-topGap-gap*n)/sumD;
const P=(a,r)=>[cx+r*Math.cos(a*Math.PI/180),cy+r*Math.sin(a*Math.PI/180)];
let a=-90+topGap/2+gap/2;
const stubs=[];
const cg=mk('g',{},g);


ppiNodes.forEach((nm,i)=>{const d=ppiDegree[i];const a1=a,a2=a+d*k;
 const p1=P(a1,rOut),p2=P(a2,rOut),p3=P(a2,rIn),p4=P(a1,rIn);const lg=(a2-a1)>180?1:0;
 const s=mk('path',{d:`M${p1[0]},${p1[1]}A${rOut},${rOut} 0 ${lg} 1 ${p2[0]},${p2[1]}L${p3[0]},${p3[1]}A${rIn},${rIn} 0 ${lg} 0 ${p4[0]},${p4[1]}Z`,fill:interp(degPal,d)},g);
 
 
 for(let j=0;j<d;j++)stubs.push([a1+j*k,a1+(j+1)*k]);
 const am=(a1+a2)/2;const lp=P(am,rL);let rot=am,anc='start';
 if(am>90&&am<270){rot=am+180;anc='end';}
 const t=tx(lp[0],lp[1],nm,{'font-size':21,'text-anchor':anc,'dominant-baseline':'central',fill:'#222',transform:`rotate(${rot} ${lp[0]} ${lp[1]})`},g);
 
 
 a=a2+gap;});
const S=stubs.length,H=Math.floor(S/2);
function gcd(x,y){return y?gcd(y,x%y):x;}
let stride=[37,41,43,47,53,59].find(s=>gcd(s,H)==1);
for(let i=0;i<H;i++){const A=stubs[i],B=stubs[H+((i*stride)%H)];
 const sc=ppiScoreCycle[i%ppiScoreCycle.length];
 const a1=P(A[0],rC),a2=P(A[1],rC),b1=P(B[0],rC),b2=P(B[1],rC);
 const mx=(a1[0]+a2[0]+b1[0]+b2[0])/4,my=(a1[1]+a2[1]+b1[1]+b2[1])/4;
 const qx=cx+0.45*(mx-cx),qy=cy+0.45*(my-cy);
 const d=`M${a1[0]},${a1[1]}A${rC},${rC} 0 0 1 ${a2[0]},${a2[1]}Q${qx},${qy} ${b1[0]},${b1[1]}A${rC},${rC} 0 0 1 ${b2[0]},${b2[1]}Q${qx},${qy} ${a1[0]},${a1[1]}Z`;
 const c=mk('path',{d:d,fill:interp(scorePal,sc),'fill-opacity':0.4,stroke:interp(scorePal,sc),'stroke-opacity':0.3,'stroke-width':1},cg);
 
 }
const dtl=tx(2133,4203,'Degree',{'font-size':22,'font-weight':'bold','text-anchor':'middle'},g);


const lgd=mk('linearGradient',{id:'degleg',x1:0,y1:0,x2:1,y2:0},defs);
degPal.forEach(s=>mk('stop',{offset:(s[0]-2)/13,'stop-color':s[1]},lgd));
const dbar=mk('rect',{x:1976,y:4213,width:316,height:26,fill:'url(#degleg)'},g);


degTicks.forEach(v=>{const x=1981+(v-2)/13*304;const t=tx(x,4260,String(v),{'font-size':19,'text-anchor':'middle',fill:'#444'},g);
 
 });
const stl=tx(2133,4299,'Interaction Score',{'font-size':22,'font-weight':'bold','text-anchor':'middle'},g);


const lgs=mk('linearGradient',{id:'scleg',x1:0,y1:0,x2:1,y2:0},defs);
scorePal.forEach(s=>mk('stop',{offset:(s[0]-0.701)/0.298,'stop-color':s[1]},lgs));
const sbar=mk('rect',{x:1976,y:4310,width:316,height:25,fill:'url(#scleg)'},g);


scoreTicks.forEach(v=>{const x=1981+(v-0.701)/0.298*304;const t=tx(x,4355,String(v),{'font-size':18,'text-anchor':'middle',fill:'#444'},g);
 
 });
})();
</script>
</body></html>
